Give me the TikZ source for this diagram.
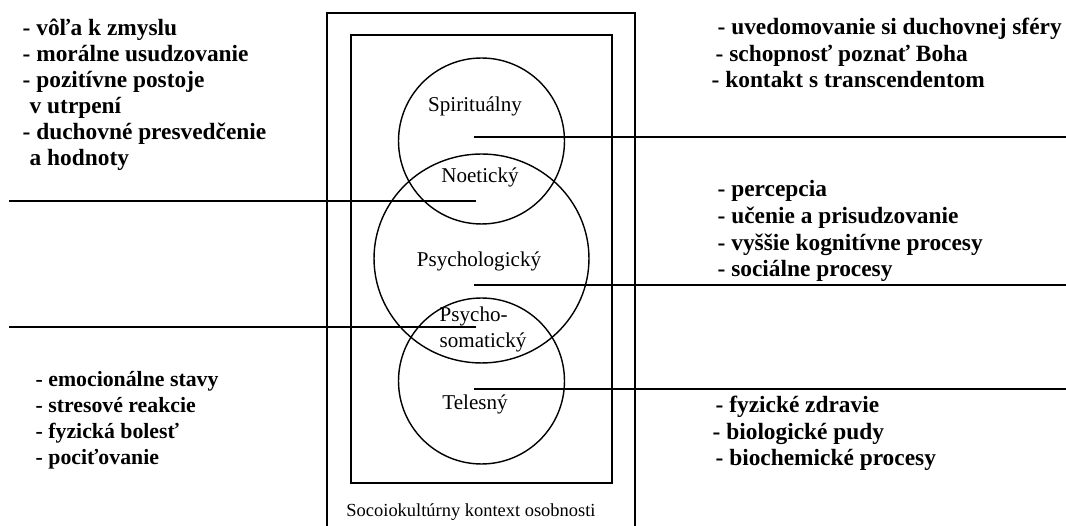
\documentclass[tikz,border=0pt]{standalone}
\usepackage{fontspec}
\setmainfont{Liberation Serif}
\usepackage{tikz}

\tikzset{
  item/.style={anchor=base west,align=left,inner sep=0pt,
    font=\bfseries\fontsize{13.3}{15.3}\selectfont},
  layer/.style={anchor=base,inner sep=0pt,font=\fontsize{12}{14.8}\selectfont},
}

\begin{document}
\begin{tikzpicture}[x=0.02cm,y=-0.02cm,line width=0.8pt]
\useasboundingbox (0,0) rectangle (1066,526);

% context frames
\draw (327,526)--(327,13)--(635,13)--(635,526);
\draw (351,35) rectangle (612,483);

% the three circles
\coordinate (spir) at (481.5,141);
\coordinate (psych) at (481.5,258.5);
\coordinate (tel) at (481.5,381);
\draw (spir) circle (1.66cm);
\draw (psych) ellipse [x radius=2.15cm,y radius=2.09cm];
\draw (tel) circle (1.66cm);

\node[layer] (spirlab) at (475,112) {Spirituálny};
\node[layer] (noelab) at (480,183) {Noetický};
\node[layer] (psylab) at (479,267) {Psychologický};
\node[layer,anchor=base west,align=left] (somlab) at (439,348) {Psycho-\\somatický};
\node[layer] (tellab) at (475,410) {Telesný};
\node[layer,font=\fontsize{10.5}{12}\selectfont] (ctxlab) at (471,517) {Socoiokultúrny kontext osobnosti};

% lines out of the circles
\coordinate (spirIn) at (474,137);   \coordinate (spirOut) at (1066,137);
\coordinate (noeIn) at (476,201);    \coordinate (noeOut) at (9,201);
\coordinate (psyIn) at (474,285);    \coordinate (psyOut) at (1066,285);
\coordinate (somIn) at (476,327);    \coordinate (somOut) at (9,327);
\coordinate (telIn) at (474,389);    \coordinate (telOut) at (1066,389);
\draw (spirIn)--(spirOut);
\draw (noeIn)--(noeOut);
\draw (psyIn)--(psyOut);
\draw (somIn)--(somOut);
\draw (telIn)--(telOut);

% lists (placed at the baseline of their last line)
\node[item,font=\bfseries\fontsize{13.3}{14.9}\selectfont] (noetic) at (22,166)
  {- vôľa k zmyslu\\- morálne usudzovanie\\- pozitívne postoje\\
  \hspace*{1.4mm}v utrpení\\- duchovné presvedčenie\\\hspace*{1.4mm}a hodnoty};
\node[item] (spiritual) at (711,88) {\hspace*{1.2mm}- uvedomovanie si duchovnej sféry\\
  \hspace*{0.8mm}- schopnosť poznať Boha\\- kontakt s transcendentom};
\node[item,font=\bfseries\fontsize{13.3}{15.2}\selectfont] (psycho) at (717,277)
  {- percepcia\\- učenie a prisudzovanie\\- vyššie kognitívne procesy\\- sociálne procesy};
\node[item,font=\bfseries\fontsize{12.4}{14.8}\selectfont] (somatic) at (35,465)
  {- emocionálne stavy\\- stresové reakcie\\- fyzická bolesť\\- pociťovanie};
\node[item] (body) at (712,466) {\hspace*{0.6mm}- fyzické zdravie\\- biologické pudy\\\hspace*{0.6mm}- biochemické procesy};
\end{tikzpicture}
\end{document}
